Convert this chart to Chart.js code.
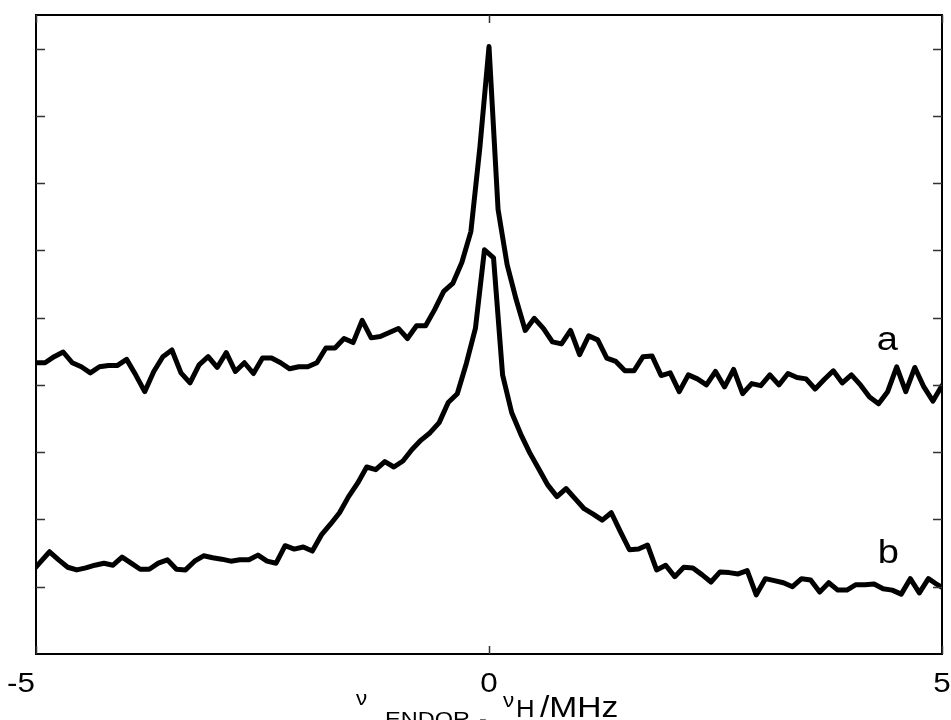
<!DOCTYPE html>
<html>
<head>
<meta charset="utf-8">
<script src="https://cdn.jsdelivr.net/npm/chart.js@4"></script>
<style>
  body { margin: 0; background: #fff; }
  canvas { display: block; }
</style>
</head>
<body>
<canvas id="chart" width="951" height="720"></canvas>
<script>
// trace a (upper), one value per 0.1 MHz starting at -5 MHz
const spectrumA = [
  4.33, 4.33, 4.42, 4.49, 4.33, 4.27, 4.18, 4.27, 4.29, 4.29,
  4.38, 4.15, 3.90, 4.20, 4.42, 4.52, 4.18, 4.03, 4.30, 4.42,
  4.26, 4.48, 4.20, 4.33, 4.17, 4.40, 4.40, 4.33, 4.24, 4.27,
  4.27, 4.33, 4.55, 4.55, 4.69, 4.63, 4.96, 4.70, 4.72, 4.78,
  4.84, 4.69, 4.88, 4.88, 5.12, 5.39, 5.51, 5.82, 6.28, 7.54,
  9.03, 6.61, 5.79, 5.27, 4.81, 4.99, 4.84, 4.64, 4.61, 4.81,
  4.45, 4.73, 4.67, 4.40, 4.35, 4.21, 4.21, 4.42, 4.43, 4.14,
  4.18, 3.90, 4.15, 4.09, 4.00, 4.20, 3.97, 4.23, 3.87, 4.02,
  3.99, 4.15, 4.00, 4.17, 4.11, 4.09, 3.94, 4.08, 4.21, 4.03,
  4.15, 4.00, 3.82, 3.72, 3.90, 4.27, 3.90, 4.26, 3.97, 3.76,
  3.99
];

// trace b (lower), sampled half a step off trace a, starting at -5.05 MHz
const spectrumB = [
  1.22, 1.37, 1.52, 1.40, 1.29, 1.25, 1.28, 1.32, 1.35, 1.32,
  1.44, 1.35, 1.26, 1.26, 1.35, 1.40, 1.26, 1.25, 1.38, 1.46,
  1.43, 1.41, 1.38, 1.40, 1.40, 1.47, 1.38, 1.35, 1.61, 1.56,
  1.59, 1.53, 1.77, 1.93, 2.10, 2.34, 2.54, 2.78, 2.74, 2.86,
  2.78, 2.87, 3.04, 3.18, 3.29, 3.44, 3.74, 3.87, 4.32, 4.84,
  6.01, 5.89, 4.15, 3.59, 3.27, 2.99, 2.75, 2.51, 2.34, 2.46,
  2.31, 2.16, 2.08, 1.99, 2.10, 1.82, 1.55, 1.56, 1.62, 1.25,
  1.32, 1.15, 1.29, 1.28, 1.18, 1.07, 1.22, 1.21, 1.19, 1.24,
  0.88, 1.12, 1.09, 1.06, 1.00, 1.12, 1.10, 0.92, 1.06, 0.95,
  0.95, 1.03, 1.03, 1.04, 0.97, 0.95, 0.89, 1.12, 0.91, 1.12,
  1.03, 0.95
];

const startA = -5;
const startB = -5.05;
const freqStep = 0.1;

const xTicks = [-5, 0, 5];
const xTickLabels = ["-5", "0", "5"];
const yTicks = [1, 2, 3, 4, 5, 6, 7, 8, 9];
const traceNames = ["a", "b"];

function toPoints(values, start) {
  return values.map((v, i) => ({ x: +(start + i * freqStep).toFixed(2), y: v }));
}

const FONT = '"Liberation Sans", Arial, sans-serif';
const STRETCH = 1.12;

function stretchedText(ctx, text, x, y, size, align) {
  ctx.save();
  ctx.font = size + "px " + FONT;
  ctx.textAlign = align || "left";
  ctx.textBaseline = "alphabetic";
  ctx.translate(x, y);
  ctx.scale(STRETCH, 1);
  ctx.fillText(text, 0, 0);
  ctx.restore();
}

const framePlugin = {
  id: "frame",
  afterDraw(chart) {
    const ctx = chart.ctx;
    const area = chart.chartArea;
    const xs = chart.scales.x;
    const ys = chart.scales.y;

    ctx.save();
    ctx.strokeStyle = "#000";
    ctx.lineWidth = 2;
    ctx.strokeRect(area.left, area.top, area.right - area.left, area.bottom - area.top);

    // inward tick marks
    ctx.lineWidth = 1.5;
    ctx.strokeStyle = "#333";
    ctx.beginPath();
    yTicks.forEach(v => {
      const y = Math.round(ys.getPixelForValue(v)) + 0.5;
      ctx.moveTo(area.left, y);
      ctx.lineTo(area.left + 9, y);
      ctx.moveTo(area.right - 9, y);
      ctx.lineTo(area.right, y);
    });
    xTicks.forEach(v => {
      const x = Math.round(xs.getPixelForValue(v)) + 0.5;
      ctx.moveTo(x, area.bottom);
      ctx.lineTo(x, area.bottom - 8);
      ctx.moveTo(x, area.top);
      ctx.lineTo(x, area.top + 8);
    });
    ctx.stroke();

    // tick labels
    ctx.fillStyle = "#000";
    xTicks.forEach((v, i) => {
      const x = xs.getPixelForValue(v);
      if (i === 0) {
        stretchedText(ctx, xTickLabels[i], x - 1, area.bottom + 38, 28, "right");
      } else {
        stretchedText(ctx, xTickLabels[i], x, area.bottom + 38, 28, "center");
      }
    });

    // axis title: ν_ENDOR - ν_H /MHz
    stretchedText(ctx, "\u03bd", 356, 705, 20);
    stretchedText(ctx, "ENDOR", 385, 726, 21);
    stretchedText(ctx, "-", 479, 726, 21);
    stretchedText(ctx, "\u03bd", 503, 707, 20);
    stretchedText(ctx, "H", 516, 717, 23);
    stretchedText(ctx, "/MHz", 540, 717, 30);

    // trace names
    stretchedText(ctx, traceNames[0], xs.getPixelForValue(4.28), ys.getPixelForValue(4.52), 34);
    stretchedText(ctx, traceNames[1], xs.getPixelForValue(4.29), ys.getPixelForValue(1.35), 34);
    ctx.restore();
  }
};

const lineStyle = {
  borderColor: "#000",
  borderWidth: 5,
  pointRadius: 0,
  tension: 0,
  fill: false,
  borderJoinStyle: "round",
  borderCapStyle: "round"
};

new Chart(document.getElementById("chart"), {
  type: "line",
  data: {
    datasets: [
      Object.assign({ label: traceNames[0], data: toPoints(spectrumA, startA) }, lineStyle),
      Object.assign({ label: traceNames[1], data: toPoints(spectrumB, startB) }, lineStyle)
    ]
  },
  options: {
    responsive: false,
    animation: false,
    layout: { padding: { left: 36, right: 9, top: 15, bottom: 66 } },
    plugins: { legend: { display: false }, tooltip: { enabled: false } },
    scales: {
      x: { type: "linear", min: -5, max: 5, display: false },
      y: { type: "linear", min: 0, max: 9.5, display: false }
    }
  },
  plugins: [framePlugin]
});
</script>
</body>
</html>
